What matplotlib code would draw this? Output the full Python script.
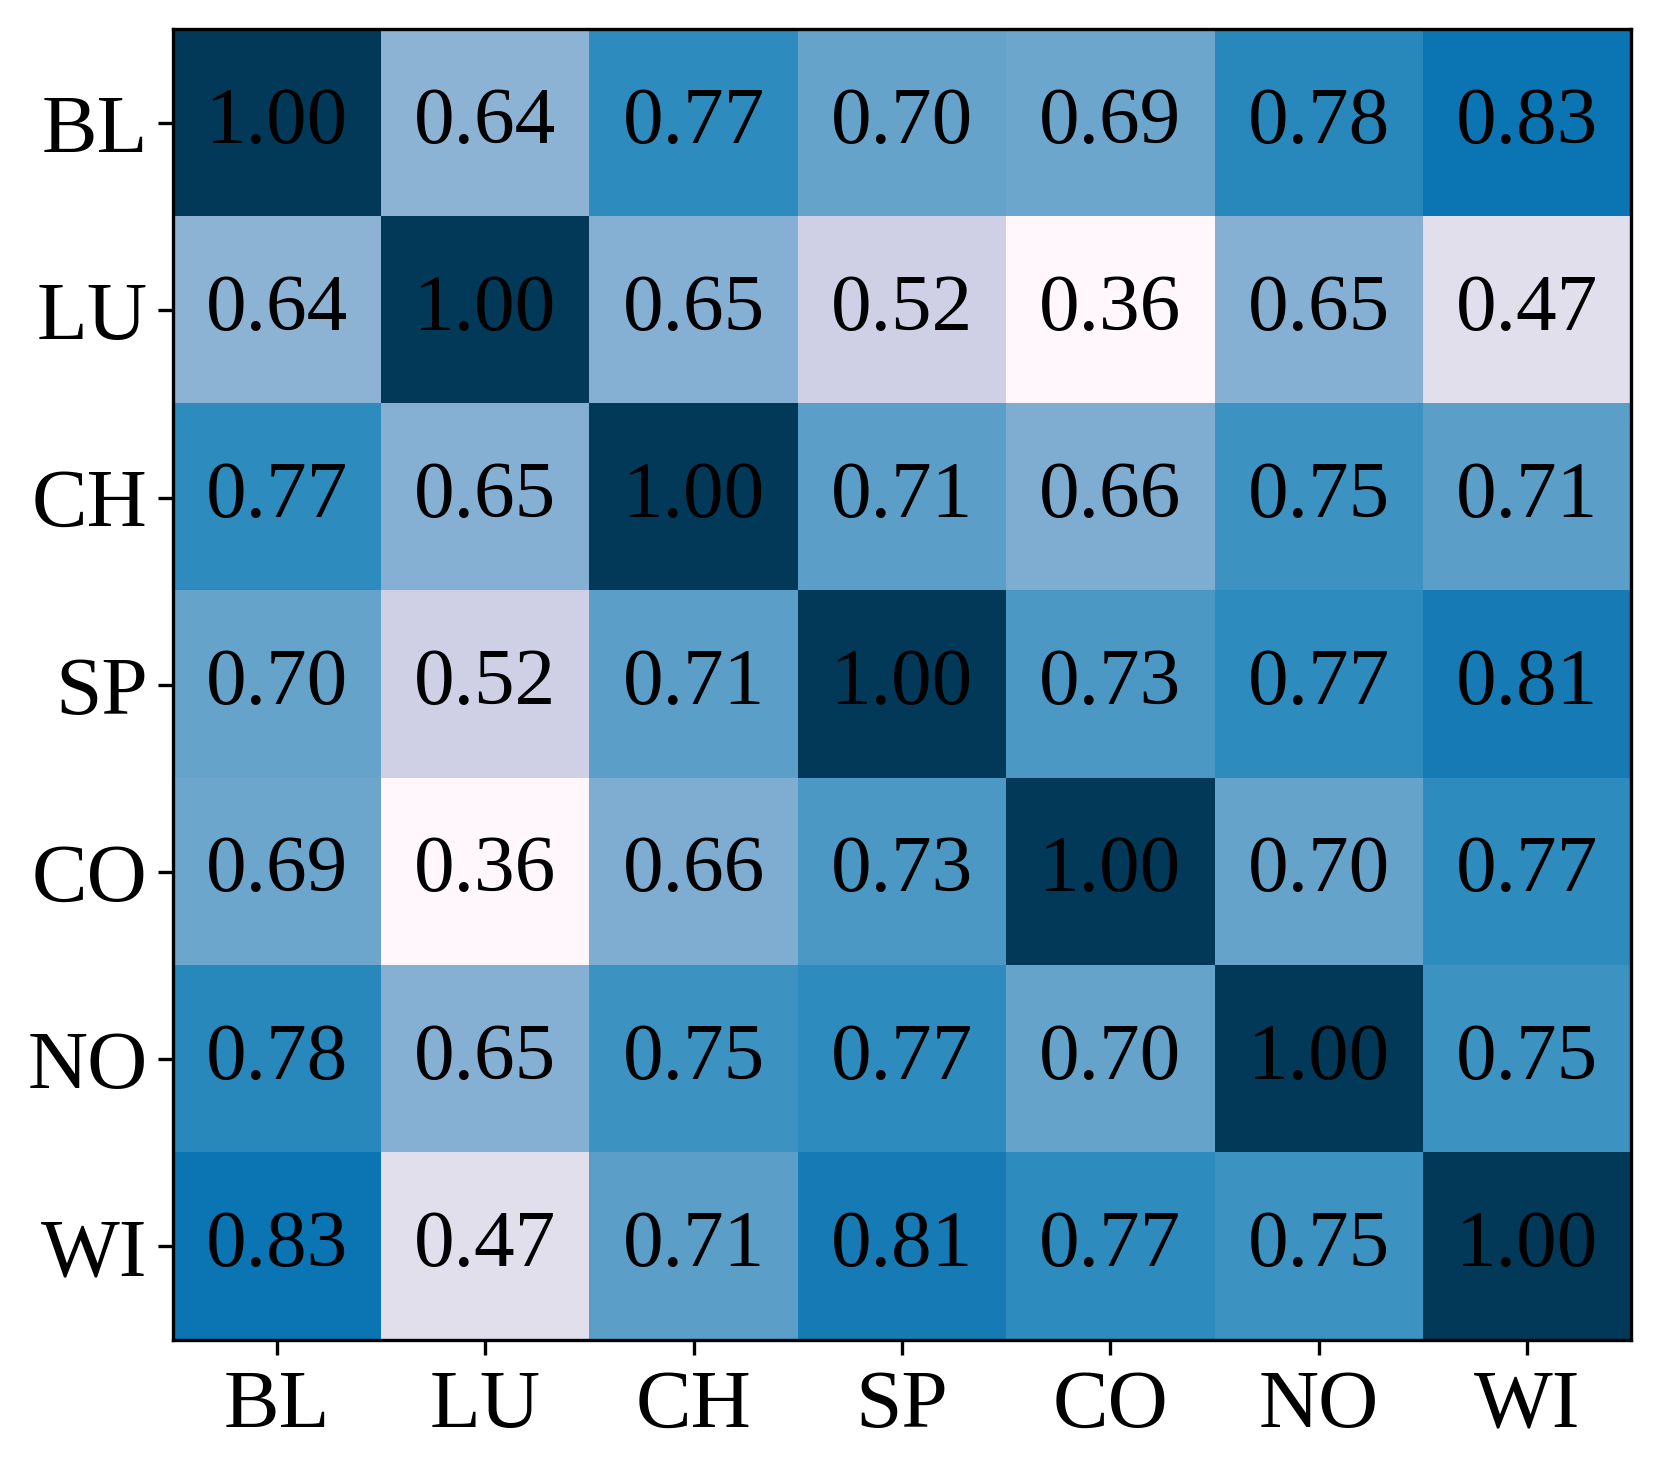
import matplotlib
matplotlib.use("Agg")
import matplotlib.pyplot as plt
import numpy as np

plt.rcParams['font.family'] = ['Liberation Serif', 'DejaVu Serif']

labels = ['BL', 'LU', 'CH', 'SP', 'CO', 'NO', 'WI']
corr = np.array([
    [1.00, 0.64, 0.77, 0.70, 0.69, 0.78, 0.83],
    [0.64, 1.00, 0.65, 0.52, 0.36, 0.65, 0.47],
    [0.77, 0.65, 1.00, 0.71, 0.66, 0.75, 0.71],
    [0.70, 0.52, 0.71, 1.00, 0.73, 0.77, 0.81],
    [0.69, 0.36, 0.66, 0.73, 1.00, 0.70, 0.77],
    [0.78, 0.65, 0.75, 0.77, 0.70, 1.00, 0.75],
    [0.83, 0.47, 0.71, 0.81, 0.77, 0.75, 1.00],
])

fig, ax = plt.subplots(figsize=(1661 / 300, 1471 / 300), dpi=300)
fig.subplots_adjust(left=0.104, right=0.982, top=0.980, bottom=0.089)

ax.imshow(corr, cmap='PuBu', aspect='auto')

for i in range(len(labels)):
    for j in range(len(labels)):
        ax.text(j, i, f"{corr[i, j]:.2f}", ha='center', va='center',
                fontsize=19.5, color='black')

ax.set_xticks(range(len(labels)))
ax.set_yticks(range(len(labels)))
ax.set_xticklabels(labels, fontsize=20)
ax.set_yticklabels(labels, fontsize=20)
ax.tick_params(axis='y', pad=2.5)

fig.savefig('out.png', dpi=300)
